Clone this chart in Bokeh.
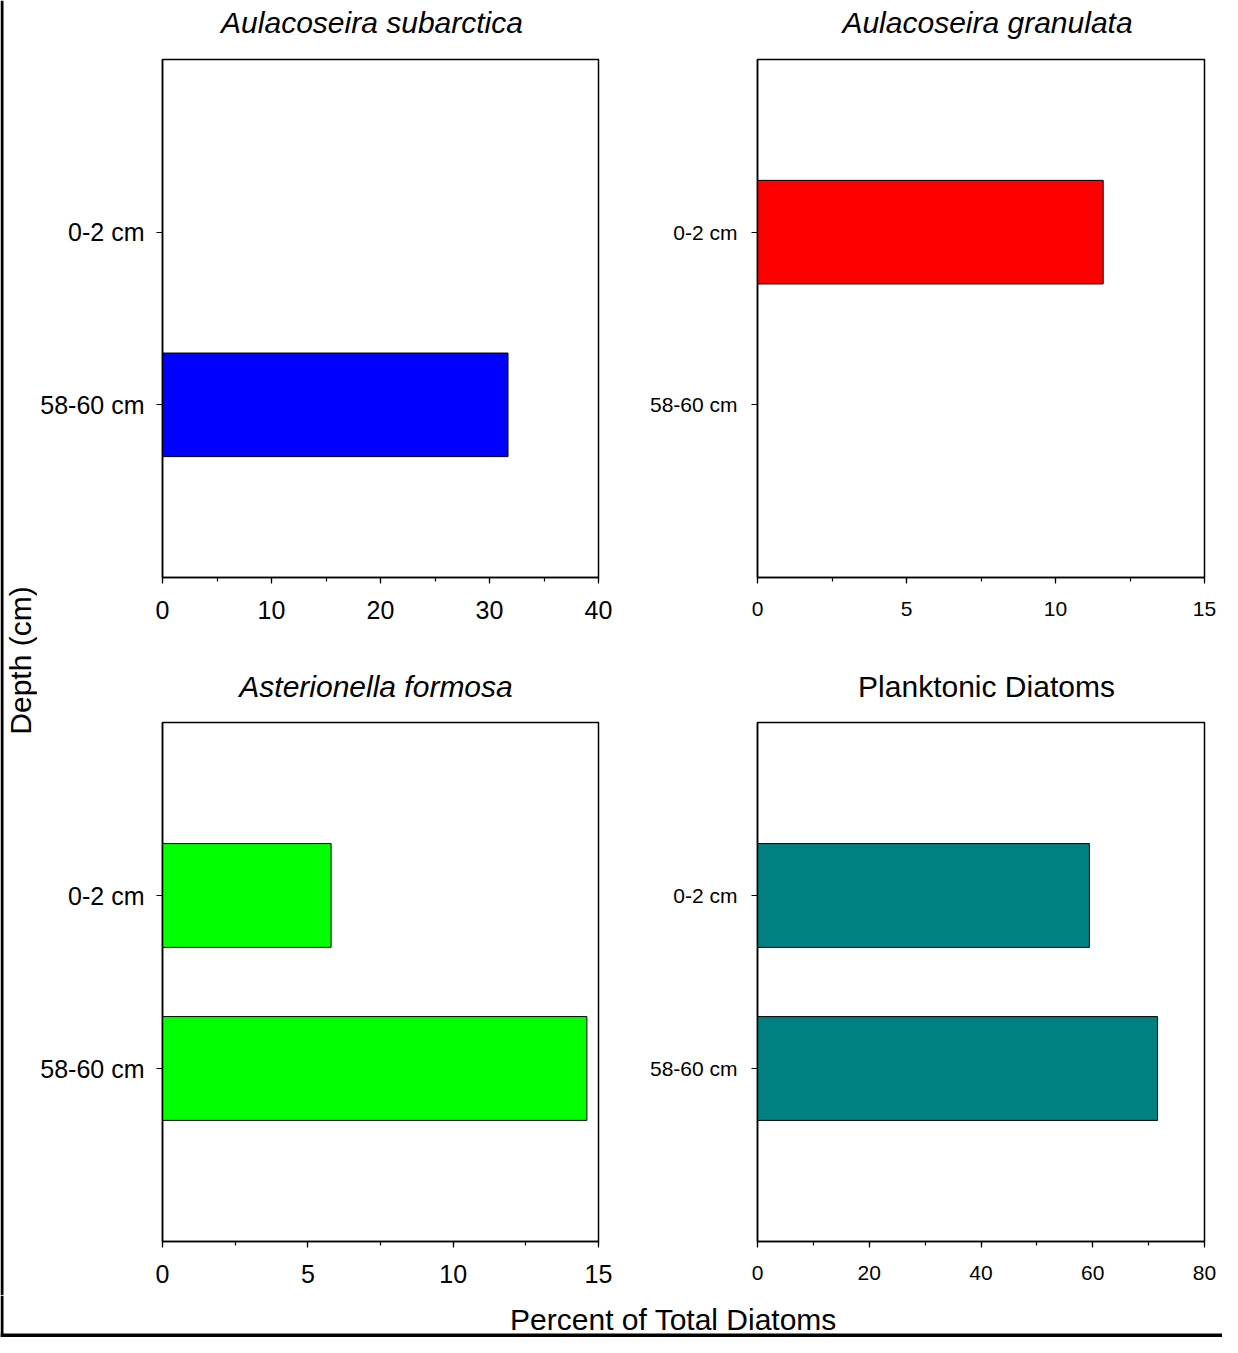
import math
from bokeh.plotting import figure
from bokeh.models import Range1d, FactorRange, SingleIntervalTicker, Label, Span
from bokeh.layouts import row, column
from bokeh.embed import file_html
from bokeh.resources import INLINE

# ---- data ----
depths = ["0-2 cm", "58-60 cm"]
subarctica = [0.0, 31.7]
granulata = [11.6, 0.0]
formosa = [5.8, 14.6]
planktonic = [59.4, 71.6]

titles = ["Aulacoseira subarctica", "Aulacoseira granulata",
          "Asterionella formosa", "Planktonic Diatoms"]
x_label = "Percent of Total Diatoms"
y_label = "Depth (cm)"

FONT = "Liberation Sans"


def blank(width, height, x0=0, x1=None):
    p = figure(width=width, height=height,
               x_range=Range1d(x0, width if x1 is None else x1),
               y_range=Range1d(0, height), min_border=0,
               x_axis_location=None, y_axis_location=None,
               toolbar_location=None, output_backend="svg")
    p.grid.visible = False
    p.outline_line_color = None
    p.background_fill_color = "white"
    p.border_fill_color = "white"
    return p


def header(text, italic, width, height, x0, x1, cx, cy_from_top):
    # header frame is aligned with the panel frame below it (x0..x1 in page pixels)
    h = blank(width, height, x0, x1)
    h.add_layout(Label(x=cx, y=height - cy_from_top, text=text,
                       text_align="center", text_baseline="middle",
                       text_font=FONT, text_font_size="30px",
                       text_font_style="italic" if italic else "normal",
                       text_color="black"))
    return h


def panel(values, color, xmax, interval, width, height,
          mb_left, mb_right, mb_top, mb_bottom, tick_size, x_standoff, y_standoff):
    p = figure(width=width, height=height,
               x_range=Range1d(0, xmax),
               y_range=FactorRange(factors=depths[::-1], range_padding=0.5),
               min_border_left=mb_left, min_border_right=mb_right,
               min_border_top=mb_top, min_border_bottom=mb_bottom,
               toolbar_location=None, output_backend="svg")
    p.grid.visible = False
    p.outline_line_color = "black"
    p.outline_line_width = 1.5
    p.background_fill_color = "white"
    p.border_fill_color = "white"

    ys = [d for d, v in zip(depths, values) if v > 0]
    vs = [v for v in values if v > 0]
    p.hbar(y=ys, left=0, right=vs, height=0.6, fill_color=color,
           line_color="black", line_width=1)

    p.xaxis.ticker = SingleIntervalTicker(interval=interval, num_minor_ticks=2)
    for ax in (p.xaxis, p.yaxis):
        ax.axis_line_width = 1.5
        ax.axis_line_color = "black"
        ax.major_tick_line_color = "black"
        ax.major_tick_line_width = 1.2
        ax.major_tick_in = 0
        ax.major_tick_out = 6
        ax.major_label_text_font = FONT
        ax.major_label_text_font_size = tick_size
        ax.major_label_text_color = "black"
    p.xaxis.minor_tick_in = 0
    p.xaxis.minor_tick_out = 4
    p.xaxis.minor_tick_line_color = "black"
    p.xaxis.minor_tick_line_width = 1.2
    p.xaxis.major_label_standoff = x_standoff
    p.yaxis.major_label_standoff = y_standoff
    return p


# left column: x 37..630, right column: x 630..1222
h_tl = header(titles[0], True, 593, 45, 161, 598, 371, 22)
h_tr = header(titles[1], True, 592, 45, 757, 1204, 987, 22)
h_bl = header(titles[2], True, 593, 60, 161, 598, 375, 686 - 645)
h_br = header(titles[3], False, 592, 60, 757, 1204, 986, 686 - 645)

tl = panel(subarctica, "#0000FF", 40, 10, 593, 600, 123, 32, 14, 68, "25px", 17, 12)
tr = panel(granulata, "#FF0000", 15, 5, 592, 600, 127, 18, 14, 68, "21px", 18, 14)
bl = panel(formosa, "#00FF00", 15, 5, 593, 590, 123, 32, 17, 54, "25px", 17, 12)
br = panel(planktonic, "#008080", 80, 20, 592, 590, 127, 18, 17, 54, "21px", 18, 14)

left = blank(37, 1295)
left.add_layout(Span(location=1.5, dimension="height", line_color="black", line_width=3))
left.add_layout(Label(x=20, y=1295 - 660, text=y_label, angle=math.pi / 2,
                      text_align="center", text_baseline="middle",
                      text_font=FONT, text_font_size="30px", text_color="black"))

bottom = blank(1222, 42)
bottom.add_layout(Span(location=1.5, dimension="height", line_color="black", line_width=3))
bottom.add_layout(Span(location=2, dimension="width", line_color="black", line_width=4))
bottom.add_layout(Label(x=673, y=42 - 24, text=x_label, text_align="center",
                        text_baseline="middle", text_font=FONT,
                        text_font_size="30px", text_color="black"))

grid = column(row(column(h_tl, tl), column(h_tr, tr)),
              row(column(h_bl, bl), column(h_br, br)))
layout = column(row(left, grid), bottom)

open("out.html", "w").write(file_html(layout, INLINE))
